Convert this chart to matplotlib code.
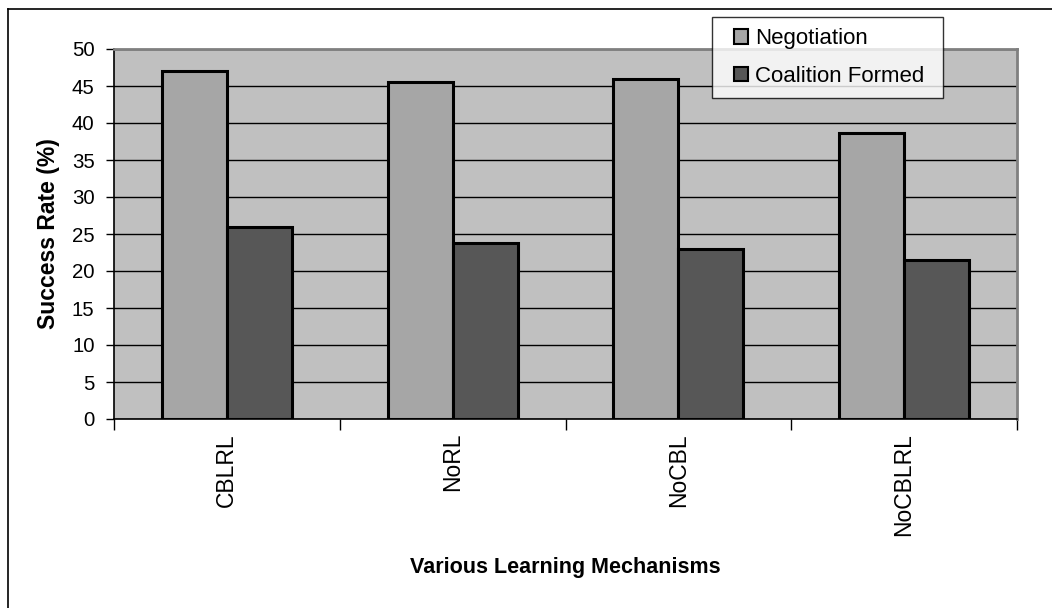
import matplotlib
matplotlib.use("Agg")
import matplotlib.pyplot as plt
from matplotlib.lines import Line2D
from matplotlib.legend_handler import HandlerPatch
import numpy as np

plt.rcParams['font.family'] = ['Liberation Sans', 'DejaVu Sans']

mechanisms = ["CBLRL", "NoRL", "NoCBL", "NoCBLRL"]
negotiation = [47.0, 45.5, 46.0, 38.6]
coalition_formed = [26.0, 23.8, 23.0, 21.5]
series_names = ["Negotiation", "Coalition Formed"]
y_ticks = [0, 5, 10, 15, 20, 25, 30, 35, 40, 45, 50]

W, H = 1052, 608
fig = plt.figure(figsize=(W / 100, H / 100), dpi=100)
ax = fig.add_axes([114 / W, 1 - 419 / H, (1017 - 114) / W, (419 - 49) / H])
ax.set_facecolor("#C0C0C0")

x = np.arange(len(mechanisms))
bw = 0.288
ax.set_axisbelow(True)
ax.yaxis.grid(True, color="black", linewidth=1.0)
b1 = ax.bar(x - bw / 2, negotiation, width=bw, color="#A6A6A6",
            edgecolor="black", linewidth=2.2, label=series_names[0], zorder=3)
b2 = ax.bar(x + bw / 2, coalition_formed, width=bw, color="#575757",
            edgecolor="black", linewidth=2.2, label=series_names[1], zorder=3)

ax.set_xlim(-0.5, len(mechanisms) - 0.5)
ax.set_ylim(0, 50)
ax.set_yticks(y_ticks)
ax.set_yticklabels([str(v) for v in y_ticks], fontsize=14.7)
ax.tick_params(axis="y", direction="out", length=6, width=1, pad=8, color="black")

# category boundaries carry the tick marks, names sit at the centres
ax.set_xticks(np.arange(len(mechanisms) + 1) - 0.5)
ax.set_xticklabels([])
ax.tick_params(axis="x", which="major", direction="out", length=8, width=1, color="black")
ax.set_xticks(x, minor=True)
ax.set_xticklabels(mechanisms, minor=True, rotation=90, fontsize=16.5, va="top")
ax.tick_params(axis="x", which="minor", length=0, pad=10)

for side in ("top", "right"):
    ax.spines[side].set_color("#808080")
    ax.spines[side].set_linewidth(2)
for side in ("left", "bottom"):
    ax.spines[side].set_color("black")
    ax.spines[side].set_linewidth(1.2)

ax.set_ylabel("Success Rate (%)", fontsize=16.5, fontweight="bold")
ax.yaxis.set_label_coords(-0.0597, 0.5)
ax.set_xlabel("Various Learning Mechanisms", fontsize=15.5, fontweight="bold")
ax.xaxis.set_label_coords(0.4995, -0.373)

h1, h2 = b1.patches[0], b2.patches[0]
leg_w = (943.3 - 711.7) / W
leg_h = (97 - 17.3) / H
leg = fig.legend(handles=[h1, h2], labels=series_names, loc="upper left", mode="expand",
                 bbox_to_anchor=(711.7 / W, 1 - 97 / H, leg_w, leg_h),
                 bbox_transform=fig.transFigure,
                 fontsize=16, frameon=True, fancybox=False, shadow=False,
                 handlelength=1.15, handleheight=0.62, handletextpad=0.3,
                 labelspacing=0.73, borderpad=0.5, borderaxespad=0,
                 handler_map={h1: HandlerPatch(xpad=0.5), h2: HandlerPatch(xpad=0.5)})
leg.get_frame().set_edgecolor("black")
leg.get_frame().set_linewidth(1.0)
leg.get_frame().set_facecolor("white")
for h in leg.legend_handles:
    h.set_linewidth(1.5)

# chart frame edges
fig.add_artist(Line2D([8 / W, 8 / W], [0, 1 - 9 / H], color="black", linewidth=1.2,
                      transform=fig.transFigure))
fig.add_artist(Line2D([8 / W, 1], [1 - 9 / H, 1 - 9 / H], color="black", linewidth=1.2,
                      transform=fig.transFigure))

fig.savefig("out.png", dpi=100)
